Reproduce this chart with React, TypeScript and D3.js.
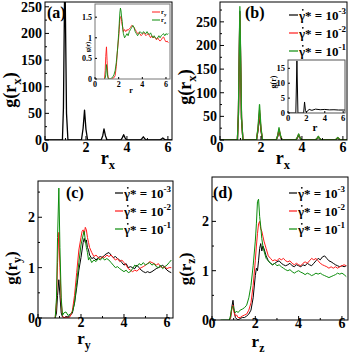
import React from "react";
import * as d3 from "d3";

// ---------- data ----------
// sharp peaks of g(r_x), panels (a) and (b)
const peakGrid = [0,
  0.85, 0.9, 0.97, 1.05, 1.12,
  1.78, 1.86, 1.93, 2.0, 2.08,
  2.74, 2.82, 2.88, 2.95, 3.03,
  3.7, 3.77, 3.84, 3.91, 3.98,
  4.66, 4.73, 4.8, 4.87, 4.95,
  5.6, 5.68, 5.75, 5.82, 5.9,
  6.3];
const aBlack = [0, 0, 60, 330, 50, 0, 0, 22, 56, 20, 0, 0, 8, 21, 8, 0, 0, 4, 10, 4, 0, 0, 2.5, 6, 2.5, 0, 0, 1.5, 4, 1.5, 0, 0];
const bBlack = [0, 0, 55, 272, 45, 0, 0, 22, 56, 20, 0, 0, 8, 21, 8, 0, 0, 4, 10, 4, 0, 0, 2.5, 6, 2.5, 0, 0, 1.5, 4, 1.5, 0, 0];
const bRed = [0, 0, 55, 265, 45, 0, 0, 24, 63, 22, 0, 0, 9, 23, 9, 0, 0, 4.5, 12, 5, 0, 0, 3, 7, 3, 0, 0, 2, 5, 2, 0, 0];
const bGreen = [0, 0, 60, 282, 50, 0, 0, 28, 75, 26, 0, 0, 10, 26, 10, 0, 0, 5, 13, 5, 0, 0, 3, 8, 3, 0, 0, 2, 5.5, 2, 0, 0];

// inset (b): g(r)
const insetBR = [0, 0.85, 0.97, 1.08, 1.7, 1.8, 1.9, 2.0, 2.3, 2.6, 3.0, 3.5, 4.0, 4.5, 5.0, 5.5, 6.0, 6.2];
const insetBG = [0, 0, 17.5, 0, 0, 3.7, 0.8, 0.3, 1.2, 0.9, 1.3, 1.1, 1.2, 1.05, 1.1, 1.0, 1.0, 1.0];

// noisy curves: shared r grid
const rGrid = [0, 0.4, 0.45, 0.5, 0.8, 0.86, 0.91, 0.97, 1.02, 1.08, 1.14, 1.2, 1.3, 1.4, 1.5, 1.6, 1.7, 1.8, 1.9, 2.0,
  2.05, 2.1, 2.15, 2.2, 2.25, 2.3, 2.35, 2.4, 2.5, 2.6, 2.7, 2.8, 2.9, 3.0, 3.1, 3.2, 3.3, 3.4, 3.5, 3.6,
  3.7, 3.8, 3.9, 4.0, 4.1, 4.2, 4.3, 4.4, 4.5, 4.6, 4.7, 4.8, 4.9, 5.0, 5.1, 5.2, 5.3, 5.4, 5.5, 5.6,
  5.7, 5.8, 5.9, 6.0, 6.1, 6.2];

// inset (a): r_y (red), r_z (green)
const insetARy = [null, null, null, null, 0, 0.2, 0.55, 0.78, 0.45, 0.1, 0, 0, 0, 0, 0.02, 0.03, 0.08, 0.3, 0.7, 1.0,
  1.2, 1.45, 1.5, 1.52, 1.4, 1.3, 1.25, 1.15, 1.2, 1.15, 1.2, 1.18, 1.22, 1.25, 1.3, 1.28, 1.25, 1.2, 1.15, 1.1,
  1.12, 1.1, 1.05, 1.08, 1.12, 1.1, 1.05, 1.08, 1.1, 1.05, 1.0, 1.05, 1.0, 1.02, 1.0, 0.95, 1.0, 0.95, 0.92, 0.95,
  1.0, 1.02, 0.95, 0.9, 0.92, 0.88];
const insetARz = [null, null, null, null, 0, 0.02, 0.1, 0.35, 0.2, 0.05, 0, 0, 0, 0.02, 0.05, 0.1, 0.2, 0.4, 0.7, 1.1,
  1.35, 1.6, 1.72, 1.65, 1.5, 1.4, 1.2, 1.1, 1.0, 1.05, 1.1, 1.05, 1.15, 1.2, 1.25, 1.3, 1.25, 1.15, 1.1, 1.05,
  1.1, 1.15, 1.12, 1.1, 1.15, 1.12, 1.1, 1.15, 1.1, 1.08, 1.12, 1.05, 1.0, 1.05, 1.0, 0.98, 1.0, 1.05, 1.0, 1.05,
  1.08, 1.1, 1.05, 1.1, 1.08, 1.1];

// panel (c): g(r_y)
const cBlack = [null, null, null, null, 0, 0.1, 0.45, 0.76, 0.45, 0.1, 0.02, 0, 0.03, 0.02, 0.05, 0.1, 0.3, 0.6, 0.95, 1.2,
  1.35, 1.5, 1.58, 1.5, 1.55, 1.4, 1.35, 1.25, 1.18, 1.2, 1.15, 1.2, 1.22, 1.2, 1.25, 1.28, 1.3, 1.25, 1.2, 1.22,
  1.18, 1.15, 1.1, 1.05, 1.08, 1.0, 1.02, 1.0, 0.98, 1.05, 1.0, 0.95, 0.92, 0.9, 0.92, 0.9, 0.92, 0.95, 0.98, 1.0,
  1.02, 1.05, 1.0, 0.95, 0.92, 0.9];
const cRed = [null, null, null, null, 0, 0.3, 1.1, 1.7, 1.0, 0.3, 0.05, 0, 0.02, 0, 0.03, 0.15, 0.45, 0.9, 1.35, 1.6,
  1.72, 1.75, 1.65, 1.8, 1.75, 1.6, 1.5, 1.4, 1.3, 1.22, 1.25, 1.2, 1.18, 1.22, 1.2, 1.25, 1.22, 1.25, 1.2, 1.15,
  1.18, 1.12, 1.15, 1.1, 1.05, 0.98, 0.95, 0.92, 0.95, 0.93, 0.97, 1.0, 1.02, 1.05, 1.08, 1.12, 1.1, 1.08, 1.05, 1.08,
  1.02, 1.0, 1.02, 0.98, 1.0, 1.0];
const cGreen = [null, null, null, null, 0, 0.4, 1.6, 2.58, 1.4, 0.4, 0.05, 0.1, 0.12, 0.05, 0.08, 0.12, 0.3, 0.7, 1.1, 1.45,
  1.55, 1.65, 1.72, 1.55, 1.4, 1.3, 1.15, 1.2, 1.1, 1.15, 1.12, 1.18, 1.15, 1.2, 1.15, 1.18, 1.15, 1.1, 1.05, 1.0,
  1.02, 0.98, 0.95, 0.92, 0.95, 0.9, 0.92, 0.98, 1.05, 1.02, 1.08, 1.05, 1.1, 1.05, 1.08, 1.1, 1.05, 1.08, 1.02, 1.0,
  1.05, 0.98, 1.02, 1.05, 1.1, 1.15];

// panel (d): g(r_z)
const dBlack = [null, null, null, null, 0, 0.05, 0.25, 0.4, 0.2, 0.05, 0.02, 0, 0.03, 0.05, 0.05, 0.08, 0.12, 0.2, 0.45, 0.9,
  1.05, 1.0, 1.2, 1.45, 1.55, 1.4, 1.5, 1.45, 1.3, 1.2, 1.15, 1.12, 1.15, 1.18, 1.2, 1.15, 1.12, 1.1, 1.12, 1.15,
  1.1, 1.08, 1.12, 1.1, 1.08, 1.12, 1.1, 1.15, 1.12, 1.1, 1.15, 1.2, 1.25, 1.22, 1.28, 1.3, 1.25, 1.2, 1.18, 1.15,
  1.12, 1.1, 1.08, 1.1, 1.08, 1.1];
const dRed = [null, null, null, null, 0, 0.05, 0.2, 0.3, 0.15, 0.08, 0.1, 0.05, 0.05, 0.08, 0.1, 0.12, 0.2, 0.35, 0.7, 1.2,
  1.5, 1.75, 1.95, 2.0, 1.85, 1.8, 1.7, 1.6, 1.45, 1.3, 1.25, 1.2, 1.22, 1.2, 1.25, 1.22, 1.25, 1.2, 1.18, 1.2,
  1.15, 1.12, 1.15, 1.12, 1.1, 1.15, 1.18, 1.15, 1.2, 1.25, 1.22, 1.25, 1.2, 1.15, 1.12, 1.1, 1.08, 1.05, 1.08, 1.05,
  1.08, 1.05, 1.08, 1.1, 1.12, 1.1];
const dGreen = [null, 0, 0, 0, 0, 0.1, 0.25, 0.28, 0.2, 0.15, 0.18, 0.15, 0.2, 0.22, 0.25, 0.3, 0.45, 0.7, 1.1, 1.6,
  1.95, 2.4, 2.45, 2.1, 1.9, 1.65, 1.5, 1.4, 1.25, 1.2, 1.15, 1.12, 1.15, 1.1, 1.12, 1.08, 1.05, 1.02, 1.0, 1.02,
  0.98, 0.95, 0.98, 1.0, 0.97, 0.95, 0.92, 0.95, 0.93, 0.9, 0.92, 0.95, 0.93, 0.95, 0.92, 0.9, 0.88, 0.86, 0.88, 0.9,
  0.92, 0.95, 0.93, 0.95, 0.92, 0.88];

// ticks
const xMajor = [0, 2, 4, 6];
const xMinor = [1, 3, 5];
const abYMajor = [0, 50, 100, 150, 200, 250];
const abYMinor = [25, 75, 125, 175, 225, 275];
const cdYMajor = [0, 1, 2];
const cdYMinor = [0.5, 1.5, 2.5];
const insetAYTicks = [0, 0.5, 1, 1.5];
const insetBYTicks = [0, 5, 10, 15];
const legendExps = ["-3", "-2", "-1"];

const BLACK = "#000000";
const RED = "#ff1a1a";
const GREEN = "#0b8c0b";
const FONT = "'Liberation Serif', 'Times New Roman', serif";

type Box = { l: number; r: number; t: number; b: number };
type Series = { xs: number[]; ys: (number | null)[]; color: string; w?: number };

function Curve({ s, x, y }: { s: Series; x: d3.ScaleLinear<number, number>; y: d3.ScaleLinear<number, number> }) {
  const line = d3.line<number>()
    .defined((i) => s.ys[i] != null)
    .x((i) => x(s.xs[i]))
    .y((i) => y(s.ys[i] as number));
  return <path d={line(d3.range(s.xs.length)) || ""} fill="none" stroke={s.color}
    strokeWidth={s.w ?? 1} strokeLinejoin="round" />;
}

function Panel(props: {
  id: string; box: Box; xDom: [number, number]; yDom: [number, number];
  yMajor: number[]; yMinor: number[]; xMaj?: number[]; xMin?: number[];
  series: Series[]; fs: number; tick: number; minor: number; frame?: string;
  yLabX?: number; xLabY?: number;
}) {
  const { id, box, xDom, yDom, series, fs, tick, minor } = props;
  const x = d3.scaleLinear(xDom, [box.l, box.r]);
  const y = d3.scaleLinear(yDom, [box.b, box.t]);
  const xMaj = props.xMaj ?? xMajor;
  const xMin = props.xMin ?? xMinor;
  const frame = props.frame ?? "#000";
  return (
    <g>
      <defs>
        <clipPath id={id}>
          <rect x={box.l} y={box.t} width={box.r - box.l} height={box.b - box.t} />
        </clipPath>
      </defs>
      <g clipPath={`url(#${id})`}>
        {series.map((s, i) => <Curve key={i} s={s} x={x} y={y} />)}
      </g>
      <rect x={box.l} y={box.t} width={box.r - box.l} height={box.b - box.t} fill="none" stroke={frame} strokeWidth={1} />
      {xMaj.map((v) => <line key={"xM" + v} x1={x(v)} x2={x(v)} y1={box.b} y2={box.b - tick} stroke="#000" />)}
      {xMin.filter((v) => v < xDom[1]).map((v) => <line key={"xm" + v} x1={x(v)} x2={x(v)} y1={box.b} y2={box.b - minor} stroke="#000" />)}
      {props.yMajor.map((v) => <line key={"yM" + v} x1={box.l} x2={box.l + tick} y1={y(v)} y2={y(v)} stroke="#000" />)}
      {props.yMinor.filter((v) => v < yDom[1]).map((v) => <line key={"ym" + v} x1={box.l} x2={box.l + minor} y1={y(v)} y2={y(v)} stroke="#000" />)}
      <g fontFamily={FONT} fontWeight="bold" fontSize={fs} fill="#000">
        {xMaj.map((v) => <text key={"xt" + v} x={x(v)} y={props.xLabY ?? box.b + fs * 0.8} textAnchor="middle">{v}</text>)}
        {props.yMajor.map((v) => <text key={"yt" + v} x={props.yLabX ?? box.l - 3} y={y(v)} dy="0.35em" textAnchor="end">{v}</text>)}
      </g>
    </g>
  );
}

function Legend({ x, y0, len }: { x: number; y0: number; len: number }) {
  const colors = [BLACK, RED, GREEN];
  return (
    <g fontFamily={FONT} fontWeight="bold" fontSize={13}>
      {legendExps.map((e, i) => {
        const yy = y0 + i * 18;
        const tx = x + len + 1;
        return (
          <g key={e}>
            <line x1={x} x2={x + len} y1={yy} y2={yy} stroke={colors[i]} strokeWidth={1.2} />
            <circle cx={tx + 3.8} cy={yy - 5.2} r={0.9} fill="#000" />
            <text x={tx} y={yy + 4.5}>
              {"\u03b3* = 10"}
              <tspan dy={-6} fontSize={9}>{e}</tspan>
            </text>
          </g>
        );
      })}
    </g>
  );
}

function YTitle({ x, y, sub, fs }: { x: number; y: number; sub: string; fs: number }) {
  return (
    <text transform={`translate(${x},${y}) rotate(-90)`} textAnchor="middle" fontFamily={FONT}
      fontWeight="bold" fontSize={fs}>
      g(r<tspan dy={fs * 0.25} fontSize={fs * 0.7}>{sub}</tspan><tspan dy={-fs * 0.25}>)</tspan>
    </text>
  );
}

function XTitle({ x, y, sub, fs }: { x: number; y: number; sub: string; fs: number }) {
  return (
    <text x={x} y={y} textAnchor="middle" fontFamily={FONT} fontWeight="bold" fontSize={fs}>
      r<tspan dy={fs * 0.3} fontSize={fs * 0.7}>{sub}</tspan>
    </text>
  );
}

export default function App() {
  const boxA = { l: 45, r: 172, t: 2, b: 140 };
  const boxB = { l: 220, r: 347, t: 2, b: 140 };
  const boxC = { l: 38, r: 173, t: 181, b: 318 };
  const boxD = { l: 212, r: 348, t: 177, b: 320 };
  const boxIA = { l: 95, r: 170, t: 4, b: 79 };
  const boxIB = { l: 288, r: 345, t: 60, b: 113 };
  const bold = { fontFamily: FONT, fontWeight: "bold" as const };
  return (
    <svg width={350} height={355} style={{ position: "absolute", left: 0, top: 0, background: "#fff" }}>
      {/* (a) */}
      <Panel id="ca" box={boxA} xDom={[0, 6.2]} yDom={[0, 259]} yMajor={abYMajor} yMinor={abYMinor}
        series={[{ xs: peakGrid, ys: aBlack, color: BLACK, w: 1.3 }]} fs={14} tick={4} minor={2} xLabY={152} />
      <Panel id="cia" box={boxIA} xDom={[0, 6.34]} yDom={[0, 1.82]} yMajor={insetAYTicks} yMinor={[]}
        xMin={[]} series={[{ xs: rGrid, ys: insetARy, color: RED, w: 0.9 }, { xs: rGrid, ys: insetARz, color: GREEN, w: 0.9 }]}
        fs={8} tick={2} minor={1} frame="#777" xLabY={87} />
      <text x={47} y={18} fontSize={16} {...bold}>(a)</text>
      <YTitle x={16} y={90} sub="x" fs={18} />
      <XTitle x={108} y={164} sub="x" fs={18} />
      <text transform="translate(90,47) rotate(-90)" textAnchor="middle" fontSize={6.5} {...bold}>g(r)</text>
      <text x={131} y={93} textAnchor="middle" fontSize={8} {...bold}>r</text>
      <g fontSize={6.5} {...bold}>
        <line x1={152} x2={160} y1={12} y2={12} stroke={RED} />
        <text x={161} y={14}>r<tspan dy={1.5} fontSize={5}>y</tspan></text>
        <line x1={152} x2={160} y1={20} y2={20} stroke={GREEN} />
        <text x={161} y={22}>r<tspan dy={1.5} fontSize={5}>z</tspan></text>
      </g>

      {/* (b) */}
      <Panel id="cb" box={boxB} xDom={[0, 6.2]} yDom={[0, 292]} yMajor={abYMajor} yMinor={abYMinor}
        series={[{ xs: peakGrid, ys: bBlack, color: BLACK, w: 1.3 }, { xs: peakGrid, ys: bRed, color: RED, w: 1.3 },
          { xs: peakGrid, ys: bGreen, color: "#1f9a1f", w: 1.3 }]} fs={14} tick={4} minor={2} xLabY={152} />
      <Panel id="cib" box={boxIB} xDom={[0, 6.2]} yDom={[0, 17.8]} yMajor={insetBYTicks} yMinor={[]}
        xMin={[]} series={[{ xs: insetBR, ys: insetBG, color: BLACK, w: 1 }]} fs={8.5} tick={2} minor={1} frame="#555" xLabY={121} />
      <text x={245} y={18} fontSize={16} {...bold}>(b)</text>
      <YTitle x={191} y={87} sub="x" fs={18} />
      <XTitle x={283} y={164} sub="x" fs={18} />
      <text transform="translate(276,82) rotate(-90)" textAnchor="middle" fontSize={8} {...bold}>g(r)</text>
      <text x={315} y={131} textAnchor="middle" fontSize={11} {...bold}>r</text>
      <Legend x={289} y0={15} len={9} />

      {/* (c) */}
      <Panel id="cc" box={boxC} xDom={[0, 6.28]} yDom={[0, 2.72]} yMajor={cdYMajor} yMinor={cdYMinor}
        series={[{ xs: rGrid, ys: cBlack, color: BLACK }, { xs: rGrid, ys: cRed, color: RED }, { xs: rGrid, ys: cGreen, color: GREEN }]}
        fs={14} tick={4} minor={2} xLabY={327} />
      <text x={66} y={198} fontSize={16} {...bold}>(c)</text>
      <YTitle x={17} y={268} sub="y" fs={17} />
      <XTitle x={84} y={344} sub="y" fs={17} />
      <Legend x={115} y0={193} len={8} />

      {/* (d) */}
      <Panel id="cd" box={boxD} xDom={[0, 6.28]} yDom={[0, 2.9]} yMajor={cdYMajor} yMinor={cdYMinor}
        series={[{ xs: rGrid, ys: dBlack, color: BLACK }, { xs: rGrid, ys: dRed, color: RED }, { xs: rGrid, ys: dGreen, color: GREEN }]}
        fs={14} tick={4} minor={2} xLabY={328} />
      <text x={213} y={198} fontSize={16} {...bold}>(d)</text>
      <YTitle x={191} y={269} sub="z" fs={17} />
      <XTitle x={258} y={347} sub="z" fs={17} />
      <Legend x={289} y0={193} len={8} />
    </svg>
  );
}
